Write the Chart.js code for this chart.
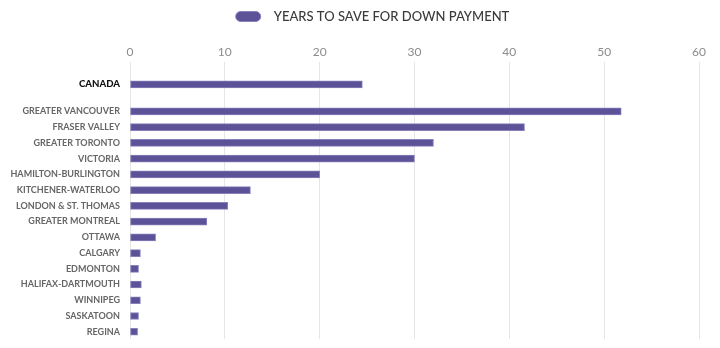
<!DOCTYPE html>
<html><head><meta charset="utf-8">
<script src="https://cdn.jsdelivr.net/npm/chart.js@4"></script>
<style>html,body{margin:0;padding:0;background:#fff}</style>
</head><body>
<canvas id="c" width="720" height="348"></canvas>
<script>
const categories = ["CANADA","GREATER VANCOUVER","FRASER VALLEY","GREATER TORONTO","VICTORIA","HAMILTON-BURLINGTON","KITCHENER-WATERLOO","LONDON & ST. THOMAS","GREATER MONTREAL","OTTAWA","CALGARY","EDMONTON","HALIFAX-DARTMOUTH","WINNIPEG","SASKATOON","REGINA"];
const years = [24.5, 51.8, 41.6, 32.0, 30.0, 20.0, 12.7, 10.3, 8.1, 2.7, 1.1, 0.9, 1.2, 1.1, 0.9, 0.8];
const xTicks = [0, 10, 20, 30, 40, 50, 60];
const seriesName = "YEARS TO SAVE FOR DOWN PAYMENT";

// layout: national row separated from the regional rows by an extra gap
const GAP = 0.72;
const rowPos = categories.map((c, i) => i === 0 ? 0 : i + GAP);

// nudge the legend to the right, as in the original layout
const legendShift = {
  id: 'legendShift',
  afterLayout(chart) { const l = chart.legend; l.left += 23; l.right += 23; }
};

new Chart(document.getElementById('c'), {
  type: 'bar',
  plugins: [legendShift],
  data: {
    datasets: [{
      label: '  ' + seriesName,
      data: categories.map((c, i) => ({ x: years[i], y: rowPos[i] })),
      backgroundColor: '#5b5297',
      borderColor: '#8780bb',
      borderWidth: 1,
      borderSkipped: false,
      barThickness: 7
    }]
  },
  options: {
    responsive: false,
    animation: false,
    indexAxis: 'y',
    layout: { padding: { left: 0, right: 21, top: 4, bottom: 9 } },
    plugins: {
      tooltip: { enabled: false },
      legend: {
        position: 'top',
        labels: {
          boxWidth: 25, boxHeight: 10, useBorderRadius: true, borderRadius: 5,
          color: '#3a3a3a', font: { family: 'Lato', size: 13, weight: '500' }, padding: 6
        }
      }
    },
    scales: {
      x: {
        type: 'linear', position: 'top', min: 0, max: 60, bounds: 'data', offset: false,
        afterBuildTicks: a => { a.ticks = xTicks.map(v => ({ value: v })); },
        afterFit: a => { a.height = 29; },
        grid: { color: '#e6e6e6', drawTicks: false },
        border: { display: false },
        ticks: { color: '#8c8c8c', font: { family: 'Lato', size: 12 }, padding: 3 }
      },
      y: {
        type: 'linear', reverse: true, min: -1.42, max: 16.18, bounds: 'data', offset: false, grace: 0,
        afterBuildTicks: a => { a.ticks = rowPos.map(v => ({ value: v })); },
        afterFit: a => { a.width = 130; a.paddingTop = 0; a.paddingBottom = 0; },
        grid: { display: false, drawTicks: false },
        border: { display: false },
        ticks: {
          autoSkip: false, padding: 10,
          callback: (v) => categories[rowPos.indexOf(v)],
          color: ctx => ctx.index === 0 ? '#111111' : '#666666',
          font: ctx => ({ family: 'Lato', size: ctx.index === 0 ? 9.6 : 9, weight: ctx.index === 0 ? '900' : '700' })
        }
      }
    }
  }
});
</script>
</body></html>
